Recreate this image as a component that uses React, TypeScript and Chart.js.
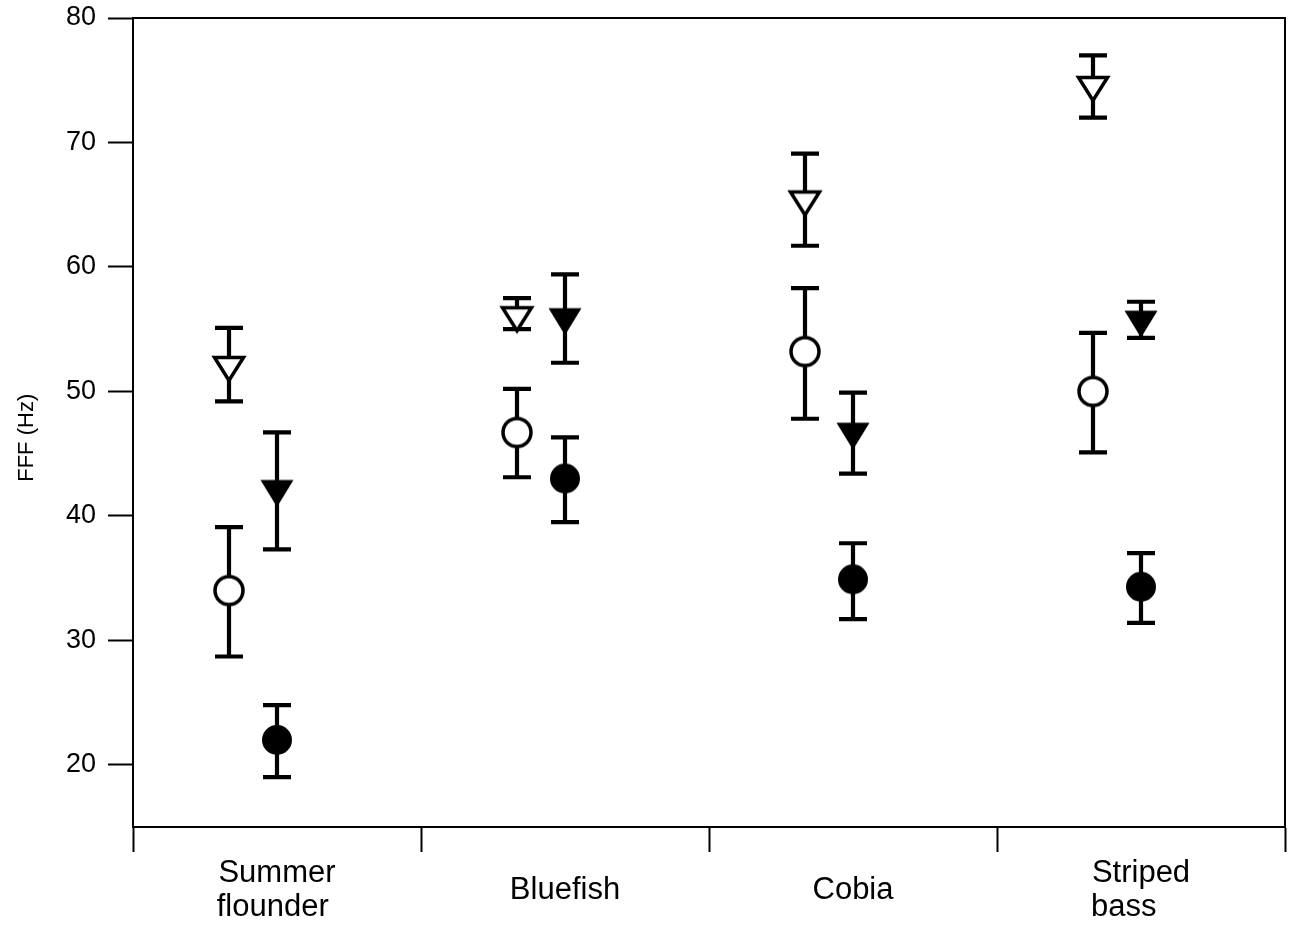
import React, { useEffect, useRef } from "react";
import { Chart, registerables } from "chart.js";

Chart.register(...registerables);

// ---- data ----
const categories: string[][] = [["Summer", "flounder"], ["Bluefish"], ["Cobia"], ["Striped", "bass"]];
const yTickValues = [20, 30, 40, 50, 60, 70, 80];

const openCircleMean = [34.0, 46.7, 53.2, 50.0];
const openCircleLow = [28.7, 43.1, 47.8, 45.1];
const openCircleHigh = [39.1, 50.2, 58.3, 54.7];

const filledCircleMean = [22.0, 43.0, 34.9, 34.3];
const filledCircleLow = [19.0, 39.5, 31.7, 31.4];
const filledCircleHigh = [24.8, 46.3, 37.8, 37.0];

const openTriangleMean = [51.8, 55.8, 65.1, 74.3];
const openTriangleLow = [49.2, 55.0, 61.7, 72.0];
const openTriangleHigh = [55.1, 57.5, 69.1, 77.0];

const filledTriangleMean = [41.8, 55.6, 46.4, 55.4];
const filledTriangleLow = [37.3, 52.3, 43.4, 54.3];
const filledTriangleHigh = [46.7, 59.4, 49.9, 57.2];

const FONT = "'Liberation Sans', Arial, Helvetica, sans-serif";
const X_LABEL_SIZE = 31;
const OPEN_OFFSET = -1 / 6;
const FILLED_OFFSET = 0;

function makeCircle(filled: boolean) {
  const c = document.createElement("canvas");
  c.width = 38;
  c.height = 38;
  const g = c.getContext("2d")!;
  g.beginPath();
  g.arc(19, 19, filled ? 15 : 14, 0, Math.PI * 2);
  if (filled) {
    g.fillStyle = "#000";
    g.fill();
  } else {
    g.fillStyle = "#fff";
    g.fill();
    g.lineWidth = 3.5;
    g.strokeStyle = "#000";
    g.stroke();
  }
  return c;
}

function makeTriangle(filled: boolean) {
  const c = document.createElement("canvas");
  c.width = 46;
  c.height = 42;
  const g = c.getContext("2d")!;
  const cx = 23;
  const cy = 21;
  const hw = filled ? 16.5 : 14.5;
  const hh = filled ? 13.5 : 11.5;
  g.beginPath();
  g.moveTo(cx - hw, cy - hh);
  g.lineTo(cx + hw, cy - hh);
  g.lineTo(cx, cy + hh);
  g.closePath();
  if (filled) {
    g.fillStyle = "#000";
    g.fill();
  } else {
    g.fillStyle = "#fff";
    g.fill();
    g.lineJoin = "miter";
    g.lineWidth = 3.5;
    g.strokeStyle = "#000";
    g.stroke();
  }
  return c;
}

// left-align the lines of a multi-line label by padding shorter lines with spaces
function leftAlignLines(lines: string[]): string[] {
  if (lines.length < 2) return lines;
  const m = document.createElement("canvas").getContext("2d")!;
  m.font = `${X_LABEL_SIZE}px ${FONT}`;
  const maxW = Math.max(...lines.map((l) => m.measureText(l).width));
  const sp = m.measureText(" ").width;
  return lines.map((l) => {
    let s = l;
    while (m.measureText(s + " ").width <= maxW + sp / 2) s += " ";
    return s;
  });
}

const errorBarPlugin = {
  id: "errorBars",
  beforeDatasetsDraw(chart: any) {
    const { ctx } = chart;
    const xs = chart.scales.x;
    const ys = chart.scales.y;
    ctx.save();
    ctx.strokeStyle = "#000";
    ctx.lineWidth = 4.2;
    ctx.lineCap = "butt";
    chart.data.datasets.forEach((ds: any) => {
      ds.data.forEach((pt: any, i: number) => {
        const px = xs.getPixelForValue(pt.x);
        const yl = ys.getPixelForValue(ds.errLow[i]);
        const yh = ys.getPixelForValue(ds.errHigh[i]);
        ctx.beginPath();
        ctx.moveTo(px, yl);
        ctx.lineTo(px, yh);
        ctx.moveTo(px - 14, yl);
        ctx.lineTo(px + 14, yl);
        ctx.moveTo(px - 14, yh);
        ctx.lineTo(px + 14, yh);
        ctx.stroke();
      });
    });
    ctx.restore();
  },
};

const framePlugin = {
  id: "frame",
  afterDraw(chart: any) {
    const { ctx, chartArea } = chart;
    ctx.save();
    ctx.strokeStyle = "#000";
    ctx.lineWidth = 2;
    ctx.beginPath();
    ctx.moveTo(chartArea.left, chartArea.top);
    ctx.lineTo(chartArea.right, chartArea.top);
    ctx.lineTo(chartArea.right, chartArea.bottom);
    ctx.stroke();
    ctx.restore();
  },
};

export default function App() {
  const ref = useRef<HTMLCanvasElement | null>(null);

  useEffect(() => {
    if (!ref.current) return;
    const toPoints = (means: number[], offset: number) =>
      means.map((m, i) => ({ x: i + 0.5 + offset, y: m }));

    const xTickValues: number[] = [];
    for (let i = 0; i <= categories.length; i++) {
      xTickValues.push(i);
      if (i < categories.length) xTickValues.push(i + 0.5);
    }
    const labelLines = categories.map(leftAlignLines);

    const chart = new Chart(ref.current, {
      type: "scatter",
      data: {
        datasets: [
          {
            label: "open triangle",
            data: toPoints(openTriangleMean, OPEN_OFFSET),
            errLow: openTriangleLow,
            errHigh: openTriangleHigh,
            pointStyle: makeTriangle(false),
          } as any,
          {
            label: "filled triangle",
            data: toPoints(filledTriangleMean, FILLED_OFFSET),
            errLow: filledTriangleLow,
            errHigh: filledTriangleHigh,
            pointStyle: makeTriangle(true),
          } as any,
          {
            label: "open circle",
            data: toPoints(openCircleMean, OPEN_OFFSET),
            errLow: openCircleLow,
            errHigh: openCircleHigh,
            pointStyle: makeCircle(false),
          } as any,
          {
            label: "filled circle",
            data: toPoints(filledCircleMean, FILLED_OFFSET),
            errLow: filledCircleLow,
            errHigh: filledCircleHigh,
            pointStyle: makeCircle(true),
          } as any,
        ],
      },
      options: {
        responsive: false,
        animation: false,
        events: [],
        layout: { padding: { top: 18, right: 4, left: 0, bottom: 0 } },
        plugins: {
          legend: { display: false },
          tooltip: { enabled: false },
        },
        scales: {
          x: {
            type: "linear",
            min: 0,
            max: categories.length,
            afterBuildTicks: (s: any) => {
              s.ticks = xTickValues.map((v) => ({ value: v }));
            },
            afterFit: (s: any) => {
              s.height = 104;
              s.paddingLeft = 0;
              s.paddingRight = 0;
            },
            grid: {
              drawOnChartArea: false,
              drawTicks: true,
              tickLength: 25,
              tickWidth: 2,
              tickColor: (c: any) =>
                c.tick && c.tick.value % 1 !== 0 ? "rgba(0,0,0,0)" : "#000",
            },
            border: { display: true, color: "#000", width: 2 },
            ticks: {
              autoSkip: false,
              maxRotation: 0,
              minRotation: 0,
              crossAlign: "center",
              padding: 21,
              color: "#000",
              font: { family: FONT, size: X_LABEL_SIZE, lineHeight: 1.1 },
              callback: (value: any) => {
                const v = Number(value);
                if (v % 1 === 0) return "";
                return labelLines[Math.floor(v)];
              },
            },
          },
          y: {
            min: 15,
            max: 80,
            afterBuildTicks: (s: any) => {
              s.ticks = yTickValues.map((v) => ({ value: v }));
            },
            afterFit: (s: any) => {
              s.width = 133;
              s.paddingTop = 0;
              s.paddingBottom = 0;
            },
            grid: {
              drawOnChartArea: false,
              drawTicks: true,
              tickLength: 25,
              tickWidth: 2,
              tickColor: "#000",
            },
            border: { display: true, color: "#000", width: 2 },
            ticks: {
              color: "#000",
              padding: 12,
              font: { family: FONT, size: 27 },
            },
            title: {
              display: true,
              text: "FFF (Hz)     ",
              color: "#000",
              font: { family: FONT, size: 22 },
              padding: { top: 14, bottom: 0 },
            },
          },
        },
      } as any,
      plugins: [errorBarPlugin, framePlugin],
    });
    return () => chart.destroy();
  }, []);

  return (
    <div style={{ position: "absolute", left: 0, top: 0, width: 1290, height: 931, background: "#fff" }}>
      <canvas ref={ref} width={1290} height={931} style={{ display: "block" }} />
    </div>
  );
}
